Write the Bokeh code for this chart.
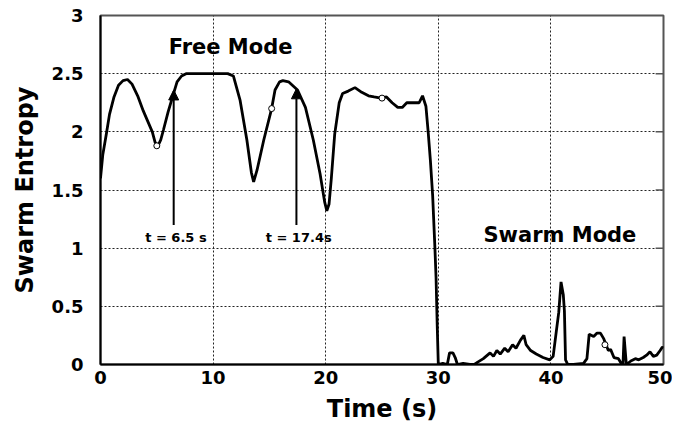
from bokeh.plotting import figure
from bokeh.models import (Range1d, FixedTicker, Arrow, NormalHead, Label)
from bokeh.embed import file_html
from bokeh.resources import INLINE

# ---- data ----
time_s = [0, 0.2, 0.5, 0.8, 1.2, 1.6, 2.0, 2.4, 2.8, 3.3, 3.8, 4.2, 4.6, 4.85, 5.1,
          5.35, 5.6, 6.0, 6.4, 6.8, 7.2, 7.6, 8.5, 9.5, 10.5, 11.3, 11.8, 12.4,
          13.0, 13.4, 13.6, 13.9, 14.5, 15.2, 15.5, 15.9, 16.2, 16.7, 17.5, 18.2,
          18.9, 19.5, 19.9, 20.1, 20.3, 20.5, 20.8, 21.2, 21.5, 22.0, 22.6, 23.2,
          23.8, 24.3, 24.9, 25.4, 25.9, 26.4, 26.8, 27.2, 27.8, 28.3, 28.6, 28.9,
          29.1, 29.3, 29.5, 29.7, 29.8, 29.9, 30.0,
          30.4, 30.8, 31.0, 31.3, 31.5, 31.7, 32.2, 32.8, 33.2, 33.5, 34.0, 34.6,
          34.9, 35.2, 35.5, 35.9, 36.2, 36.6, 36.9, 37.3, 37.6, 37.8, 38.2, 38.7,
          39.3, 39.9, 40.2, 40.5, 40.7, 40.9, 41.1, 41.2, 41.3, 41.5, 42.0, 42.9,
          43.2, 43.4, 43.8, 44.1, 44.4, 44.7, 45.1, 45.3, 45.6, 46.0, 46.3, 46.4,
          46.5, 46.7, 47.1, 47.5, 47.8, 48.2, 48.5, 48.8, 49.1, 49.4, 49.7, 49.9,
          50.0]
entropy = [1.60, 1.80, 1.97, 2.15, 2.30, 2.40, 2.44, 2.45, 2.41, 2.31, 2.18, 2.09,
           2.00, 1.91, 1.88, 1.93, 2.02, 2.17, 2.30, 2.43, 2.48, 2.50, 2.50, 2.50,
           2.50, 2.50, 2.48, 2.27, 1.93, 1.65, 1.57, 1.67, 1.93, 2.20, 2.36, 2.43,
           2.44, 2.43, 2.36, 2.21, 1.93, 1.64, 1.40, 1.32, 1.38, 1.60, 1.98, 2.25,
           2.33, 2.35, 2.38, 2.34, 2.31, 2.30, 2.29, 2.30, 2.25, 2.21, 2.21, 2.25,
           2.25, 2.25, 2.31, 2.22, 2.00, 1.75, 1.45, 1.00, 0.75, 0.35, 0.00,
           0.01, 0.00, 0.10, 0.10, 0.06, 0.00, 0.01, 0.00, 0.00, 0.02, 0.05, 0.10,
           0.07, 0.12, 0.09, 0.14, 0.11, 0.17, 0.14, 0.21, 0.25, 0.17, 0.12, 0.09,
           0.06, 0.04, 0.07, 0.30, 0.45, 0.71, 0.60, 0.46, 0.04, 0.00, 0.00, 0.01,
           0.05, 0.26, 0.24, 0.27, 0.27, 0.22, 0.12, 0.13, 0.06, 0.05, 0.00, 0.00,
           0.24, 0.00, 0.03, 0.05, 0.04, 0.06, 0.08, 0.11, 0.07, 0.08, 0.12, 0.15,
           0.14]
marker_t = [5.0, 15.2, 25.0, 44.8]
marker_e = [1.88, 2.20, 2.29, 0.17]
arrow_t = [6.5, 17.4]
arrow_from = [1.20, 1.20]
arrow_to = [2.36, 2.37]
arrow_labels = ["t = 6.5 s", "t = 17.4s"]
x_ticks = [0, 10, 20, 30, 40, 50]
y_ticks = [0, 0.5, 1, 1.5, 2, 2.5, 3]

FONT = "DejaVu Sans"

p = figure(width=672, height=429, output_backend="svg", toolbar_location=None,
           x_range=Range1d(0, 50), y_range=Range1d(0, 3),
           min_border_left=100, min_border_right=9, min_border_top=15,
           min_border_bottom=65)
p.background_fill_color = "white"
p.border_fill_color = "white"
p.outline_line_color = "#555555"
p.outline_line_width = 2

p.xaxis.ticker = FixedTicker(ticks=x_ticks)
p.yaxis.ticker = FixedTicker(ticks=y_ticks)
p.yaxis.major_label_overrides = {0: "0", 1: "1", 2: "2", 3: "3"}
for ax in (p.xaxis[0], p.yaxis[0]):
    ax.axis_line_color = "black"
    ax.axis_line_width = 2
    ax.major_tick_in = 0
    ax.major_tick_out = 0
    ax.minor_tick_line_color = None
    ax.major_label_text_font = FONT
    ax.major_label_text_font_style = "bold"
    ax.major_label_text_font_size = "18px"
    ax.major_label_text_color = "black"
    ax.axis_label_text_font = FONT
    ax.axis_label_text_font_style = "bold"
    ax.axis_label_text_font_size = "24px"
    ax.axis_label_text_color = "black"
p.xaxis.axis_label = "Time (s)"
p.yaxis.axis_label = "Swarm Entropy"
p.xaxis.major_label_standoff = 6
p.xaxis.axis_label_standoff = 8
p.yaxis.major_label_standoff = 17
p.yaxis.axis_label_standoff = 10

p.xgrid.ticker = FixedTicker(ticks=x_ticks[1:-1])
p.ygrid.ticker = FixedTicker(ticks=y_ticks[1:-1])
for g in (p.xgrid[0], p.ygrid[0]):
    g.grid_line_color = "#222222"
    g.grid_line_dash = "2 2"
    g.grid_line_width = 1

# short inward tick marks on the right border
right_ticks = y_ticks[1:-1]
p.segment(x0=[x_ticks[-1] - 0.7] * len(right_ticks), y0=right_ticks,
          x1=[x_ticks[-1]] * len(right_ticks), y1=right_ticks,
          line_color="#555555", line_width=1.5)

p.line(time_s, entropy, line_color="black", line_width=2.8)
p.scatter(marker_t, marker_e, size=6, fill_color="white", line_color="black",
          line_width=1)

for t, y0, y1, lab in zip(arrow_t, arrow_from, arrow_to, arrow_labels):
    p.add_layout(Arrow(end=NormalHead(size=10, fill_color="black",
                                      line_color="black"),
                       x_start=t, y_start=y0, x_end=t, y_end=y1,
                       line_color="black", line_width=2))
    p.add_layout(Label(x=t + 0.2, y=1.09, text=lab, text_align="center",
                       text_baseline="middle", text_font=FONT,
                       text_font_style="bold", text_font_size="13px",
                       text_color="black"))

p.add_layout(Label(x=11.55, y=2.73, text="Free Mode", text_align="center",
                   text_baseline="middle", text_font=FONT,
                   text_font_style="bold", text_font_size="21px",
                   text_color="black"))
p.add_layout(Label(x=40.8, y=1.11, text="Swarm Mode", text_align="center",
                   text_baseline="middle", text_font=FONT,
                   text_font_style="bold", text_font_size="21px",
                   text_color="black"))

open("out.html", "w").write(file_html(p, INLINE))
